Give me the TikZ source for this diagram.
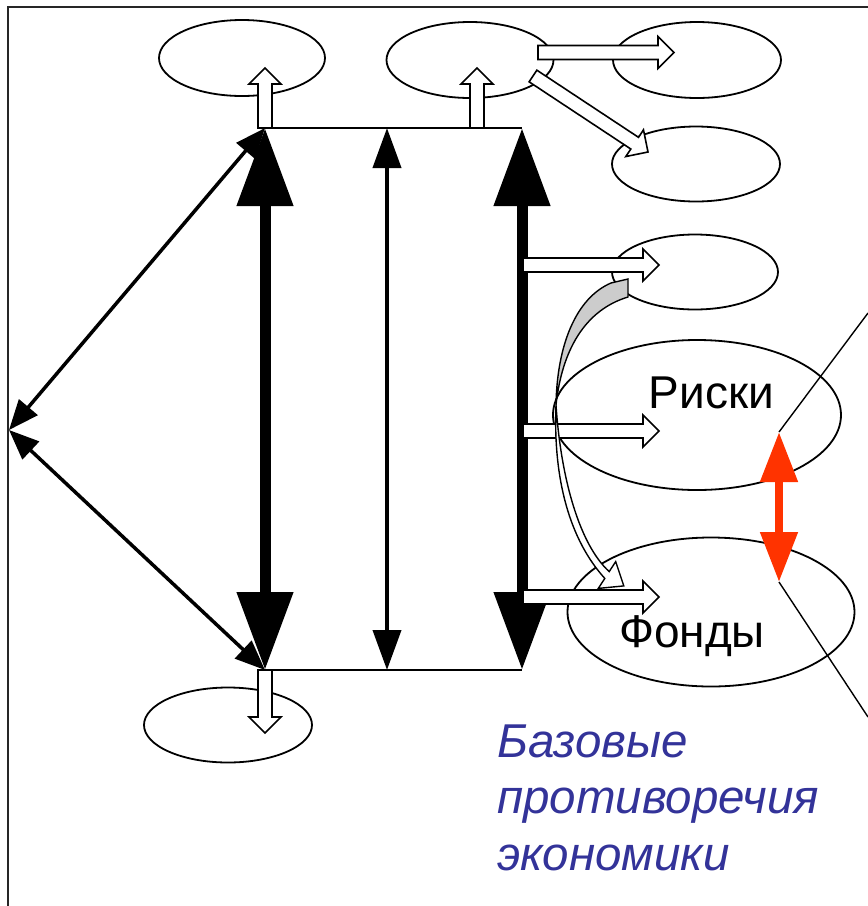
\documentclass[tikz,border=0pt]{standalone}
\usepackage{fontspec}
\setmainfont{Liberation Sans}
\usetikzlibrary{positioning,shapes.geometric,arrows.meta,calc}
\definecolor{riskred}{RGB}{255,51,0}
\definecolor{textblue}{RGB}{51,51,153}
\definecolor{wedgegray}{RGB}{204,204,204}

\tikzset{
  oval/.style={ellipse, draw, line width=1.8pt, inner sep=0pt},
  hollow/.style={draw, fill=white, line width=1.6pt, line join=miter},
  bigarr/.style={line width=11pt, {Triangle[length=78pt,width=54pt]}-{Triangle[length=78pt,width=54pt]}},
  midarr/.style={line width=4pt, {Triangle[length=40pt,width=28pt]}-{Triangle[length=40pt,width=28pt]}},
  diagarr/.style={line width=3.5pt, {Triangle[length=30pt,width=24pt]}-{Triangle[length=30pt,width=24pt]}},
  redarr/.style={riskred, line width=8pt, {Triangle[length=50pt,width=36pt]}-{Triangle[length=50pt,width=36pt]}},
  bigtext/.style={font=\fontsize{46}{50}\selectfont, inner sep=0pt},
  bluetext/.style={textblue, font=\fontsize{47.5}{56}\selectfont\itshape, inner sep=0pt, anchor=base west}
}

% seta branca: #1 base, #2 ponta
\newcommand{\hollowarrow}[2]{%
  \coordinate (hb) at ($(#2)!16pt!(#1)$);
  \draw[hollow] ($(#1)!7pt!90:(#2)$) -- ($(hb)!7pt!90:(#2)$) -- ($(hb)!16pt!90:(#2)$)
    -- (#2) -- ($(hb)!16pt!-90:(#2)$) -- ($(hb)!7pt!-90:(#2)$) -- ($(#1)!7pt!-90:(#2)$) -- cycle;}

\begin{document}
\begin{tikzpicture}[x=1pt,y=-1pt]
\useasboundingbox (0,0) rectangle (868,906);
\clip (0,0) rectangle (868,906);
\draw[line width=2.5pt, black!85] (8,906) -- (8,7) -- (868,7);

% Elipses
\node[oval, minimum width=166pt, minimum height=76pt] (eTL) at (242,58) {};
\node[oval, minimum width=167pt, minimum height=76pt] (eTM) at (470,60) {};
\node[oval, minimum width=168pt, minimum height=76pt] (eTR) at (697,60) {};
\node[oval, minimum width=168pt, minimum height=75pt] (eR2) at (696,164) {};
\node[oval, minimum width=166pt, minimum height=75pt] (eR3) at (695,272) {};
\node[oval, minimum width=288pt, minimum height=150pt] (risk) at (697,415) {};
\node[oval, minimum width=287pt, minimum height=149pt] (fund) at (711,612) {};
\node[oval, minimum width=168pt, minimum height=75pt] (eBL) at (228,725) {};

\node[bigtext, anchor=base] (riskLbl) at (711.5,408) {Риски};
\node[bigtext, anchor=base] (fundLbl) at (692,647) {Фонды};

% Cantos
\coordinate (A) at (265,128);
\coordinate (B) at (522,128);
\coordinate (C) at (265,670);
\coordinate (D) at (522,670);
\coordinate (Mt) at (387,128);
\coordinate (Mb) at (387,670);
\coordinate (P) at (9,430);

\draw[line width=1.8pt] (A) -- (B);
\draw[line width=1.8pt] (C) -- (D);

% Setas brancas
\coordinate (upL) at (265,68);
\coordinate (baseM) at (477,128);
\coordinate (upM) at (477,68);
\coordinate (sR) at (538,52.5);
\coordinate (tR) at (674,52.5);
\coordinate (sD) at (533,76);
\coordinate (tD) at (648,152);
\coordinate (dnL) at (265,733);
\hollowarrow{A}{upL}
\hollowarrow{baseM}{upM}
\hollowarrow{sR}{tR}
\hollowarrow{sD}{tD}
\hollowarrow{C}{dnL}

% Setas pretas
\draw[bigarr] (A) -- (C);
\draw[bigarr] (B) -- (D);
\draw[midarr] (Mt) -- (Mb);
\draw[diagarr] (P) -- (A);
\draw[diagarr] (P) -- (C);

\foreach \y/\n in {265/a,431/b,597/c}{
  \coordinate (s\n) at (523,\y);
  \coordinate (t\n) at (659,\y);
  \hollowarrow{s\n}{t\n}
}

% Seta curva
\fill[wedgegray, draw=black, line width=1.4pt] (611,283) -- (628,279) -- (628,297)
  .. controls (585,310) and (562,350) .. (556,405)
  .. controls (557,345) and (576,298) .. (611,283) -- cycle;
\draw[hollow, line width=1.4pt] (556,405) .. controls (553,480) and (570,540) .. (604.8,578.4)
  -- (598.3,588.4) -- (623.8,585.9) -- (615.7,561.6) -- (609.2,571.6)
  .. controls (580,545) and (561,480) .. (556,405) -- cycle;

% Riscos x fundos
\coordinate (rTop) at (779,432);
\coordinate (rBot) at (779,582);
\coordinate (lnTop) at (868,313);
\coordinate (lnBot) at (868,717);
\draw[line width=1.4pt] (rTop) -- (lnTop);
\draw[line width=1.4pt] (rBot) -- (lnBot);
\draw[redarr] (rTop) -- (rBot);

% Texto
\node[bluetext] (t1) at (497,757) {Базовые};
\node[bluetext] (t2) at (497,813) {противоречия};
\node[bluetext] (t3) at (497,870) {экономики};
\end{tikzpicture}
\end{document}
